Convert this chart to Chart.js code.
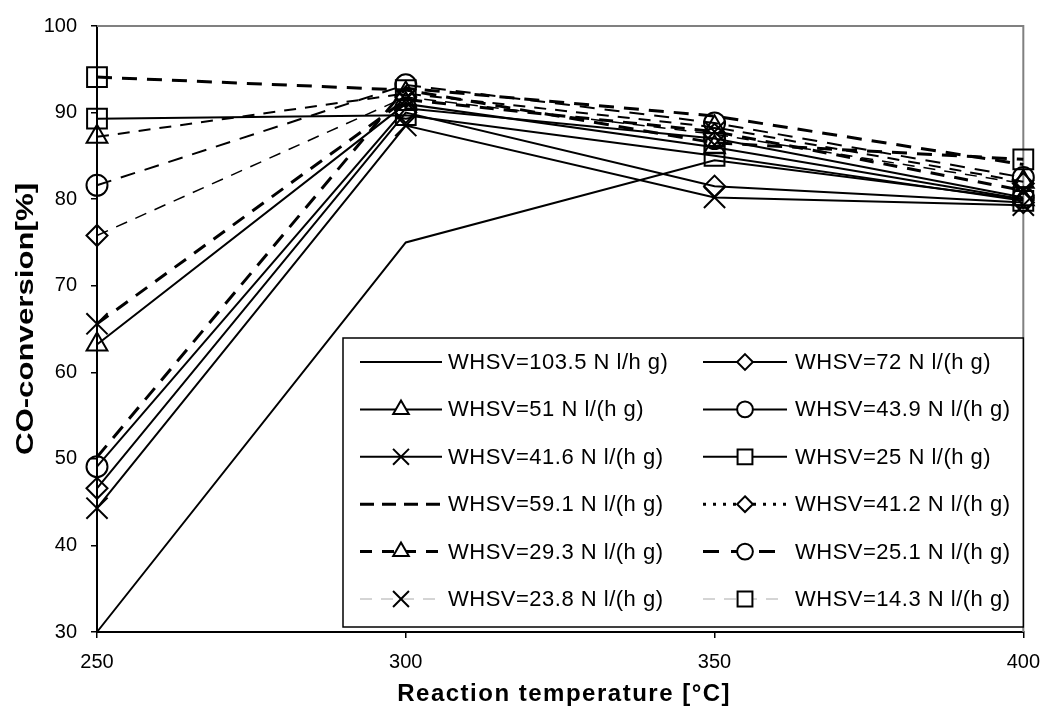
<!DOCTYPE html>
<html><head><meta charset="utf-8">
<script src="https://cdn.jsdelivr.net/npm/chart.js@4.4.1/dist/chart.umd.min.js"></script>
<style>html,body{margin:0;padding:0;background:#fff}#wrap{width:1052px;height:717px;position:relative}</style>
</head><body><div id="wrap"><canvas id="c"></canvas></div>
<script>
// ---- data ----
const temperatures = [250, 300, 350, 400];
const yTicks = [30, 40, 50, 60, 70, 80, 90, 100];
const xTitle = 'Reaction temperature [°C]';
const yTitle = 'CO-conversion[%]';
const seriesLabels = [
  "WHSV=103.5 N l/h g)", "WHSV=72 N l/(h g)",
  "WHSV=51 N l/(h g)", "WHSV=43.9 N l/(h g)",
  "WHSV=41.6 N l/(h g)", "WHSV=25 N l/(h g)",
  "WHSV=59.1 N l/(h g)", "WHSV=41.2 N l/(h g)",
  "WHSV=29.3 N l/(h g)", "WHSV=25.1 N l/(h g)",
  "WHSV=23.8 N l/(h g)", "WHSV=14.3 N l/(h g)"
];
const whsv103_5 = [30.0, 75.0, 84.5, 80.0];
const whsv72    = [46.6, 90.0, 81.5, 79.6];
const whsv51    = [63.2, 91.0, 86.0, 80.0];
const whsv43_9  = [49.1, 90.5, 87.0, 80.2];
const whsv41_6  = [44.3, 88.5, 80.2, 79.3];
const whsv25    = [89.3, 89.7, 85.0, 79.8];
const whsv59_1  = [50.2, 92.8, 89.6, 84.0];
const whsv41_2  = [75.8, 91.8, 87.5, 81.8];
const whsv29_3  = [87.2, 92.2, 88.3, 82.0];
const whsv25_1  = [81.6, 93.2, 88.8, 82.5];
const whsv23_8  = [65.6, 91.5, 87.8, 81.0];
const whsv14_3  = [94.1, 92.6, 86.5, 84.6];
const seriesValues = [whsv103_5, whsv72, whsv51, whsv43_9, whsv41_6, whsv25,
                      whsv59_1, whsv41_2, whsv29_3, whsv25_1, whsv23_8, whsv14_3];

// ---- styles ----
const FONT = '"Liberation Sans", Arial, sans-serif';
const plotStyles = [
  {marker: false,      r: 0,    color: '#000', width: 2,   dash: []},
  {marker: 'rectRot',  r: 10.5, color: '#000', width: 2,   dash: []},
  {marker: 'triangle', r: 12,   color: '#000', width: 2,   dash: []},
  {marker: 'circle',   r: 10.5, color: '#000', width: 2,   dash: []},
  {marker: 'crossRot', r: 15,   color: '#000', width: 2,   dash: []},
  {marker: 'rect',     r: 14,   color: '#000', width: 2,   dash: []},
  {marker: false,      r: 0,    color: '#000', width: 3,   dash: [15, 10]},
  {marker: 'rectRot',  r: 10.5, color: '#000', width: 1.5, dash: [12, 9]},
  {marker: 'triangle', r: 12,   color: '#000', width: 2,   dash: [12, 9]},
  {marker: 'circle',   r: 10.5, color: '#000', width: 2,   dash: [15, 10]},
  {marker: 'crossRot', r: 15,   color: '#000', width: 3,   dash: [14, 10]},
  {marker: 'rect',     r: 14,   color: '#000', width: 3,   dash: [15, 10]}
];
const legendStyles = [
  {color: '#000', width: 2, dash: []},
  {color: '#000', width: 2, dash: []},
  {color: '#000', width: 2, dash: []},
  {color: '#000', width: 2, dash: []},
  {color: '#000', width: 2, dash: []},
  {color: '#000', width: 2, dash: []},
  {color: '#000', width: 3, dash: [14, 8]},
  {color: '#000', width: 3, dash: [3, 7]},
  {color: '#000', width: 3, dash: [12, 10]},
  {color: '#000', width: 3, dash: [16, 12]},
  {color: '#aaa', width: 1, dash: [12, 9]},
  {color: '#aaa', width: 1, dash: [12, 9]}
];

const datasets = seriesValues.map((vals, i) => {
  const s = plotStyles[i];
  return {
    label: seriesLabels[i],
    data: vals.map((v, j) => ({x: temperatures[j], y: v})),
    borderColor: s.color,
    borderWidth: s.width,
    borderDash: s.dash,
    pointStyle: s.marker,
    pointRadius: s.r,
    pointBorderWidth: 2,
    pointBorderColor: '#000',
    pointBackgroundColor: 'rgba(0,0,0,0)',
    pointHoverRadius: s.r,
    tension: 0,
    fill: false,
    clip: false
  };
});

function drawMarker(ctx, style, r, x, y) {
  ctx.save();
  ctx.setLineDash([]);
  ctx.lineWidth = 2;
  ctx.strokeStyle = '#000';
  ctx.fillStyle = '#fff';
  ctx.beginPath();
  if (style === 'rect') {
    const s = r * Math.SQRT1_2;
    ctx.rect(x - s, y - s, 2 * s, 2 * s);
  } else if (style === 'rectRot') {
    ctx.moveTo(x, y - r); ctx.lineTo(x + r, y); ctx.lineTo(x, y + r); ctx.lineTo(x - r, y); ctx.closePath();
  } else if (style === 'triangle') {
    ctx.moveTo(x, y - r);
    ctx.lineTo(x + r * Math.cos(Math.PI / 6), y + r / 2);
    ctx.lineTo(x - r * Math.cos(Math.PI / 6), y + r / 2);
    ctx.closePath();
  } else if (style === 'circle') {
    ctx.arc(x, y, r, 0, Math.PI * 2);
  } else if (style === 'crossRot') {
    const o = r * Math.SQRT1_2;
    ctx.moveTo(x - o, y - o); ctx.lineTo(x + o, y + o);
    ctx.moveTo(x + o, y - o); ctx.lineTo(x - o, y + o);
    ctx.stroke(); ctx.restore(); return;
  }
  ctx.fill();
  ctx.stroke();
  ctx.restore();
}

const framePlugin = {
  id: 'frame',
  beforeDatasetsDraw(chart) {
    const {ctx, chartArea: ca} = chart;
    ctx.save();
    ctx.strokeStyle = '#808080';
    ctx.lineWidth = 2;
    ctx.beginPath();
    ctx.moveTo(ca.left, ca.top); ctx.lineTo(ca.right, ca.top); ctx.lineTo(ca.right, ca.bottom);
    ctx.stroke();
    ctx.restore();
  }
};

const titlePlugin = {
  id: 'axisTitles',
  afterDraw(chart) {
    const {ctx, chartArea: ca} = chart;
    ctx.save();
    ctx.fillStyle = '#000';
    ctx.textAlign = 'center';
    ctx.textBaseline = 'middle';
    ctx.font = 'bold 24px ' + FONT;
    try { ctx.letterSpacing = '1.5px'; } catch (e) {}
    ctx.fillText(xTitle, (ca.left + ca.right) / 2 + 4, 694);
    try { ctx.letterSpacing = '0px'; } catch (e) {}
    ctx.translate(26, (ca.top + ca.bottom) / 2 - 10);
    ctx.rotate(-Math.PI / 2);
    ctx.scale(1.3, 1);
    ctx.font = 'bold 24px ' + FONT;
    ctx.fillText(yTitle, 0, 0);
    ctx.restore();
  }
};

const legendPlugin = {
  id: 'boxLegend',
  afterDraw(chart) {
    const {ctx, chartArea: ca} = chart;
    const x0 = ca.left + 246, y0 = ca.top + 312, x1 = ca.right, y1 = ca.bottom - 5;
    ctx.save();
    ctx.fillStyle = '#fff';
    ctx.fillRect(x0, y0, x1 - x0, y1 - y0);
    ctx.strokeStyle = '#000';
    ctx.lineWidth = 1.5;
    ctx.strokeRect(x0, y0, x1 - x0, y1 - y0);
    const cols = [{s0: x0 + 17, s1: x0 + 99, t: x0 + 105}, {s0: x0 + 360, s1: x0 + 444, t: x0 + 452}];
    ctx.font = '22px ' + FONT;
    try { ctx.letterSpacing = '0.5px'; } catch (e) {}
    ctx.textBaseline = 'middle';
    ctx.textAlign = 'left';
    seriesLabels.forEach((lab, i) => {
      const c = cols[i % 2];
      const y = y0 + 24 + Math.floor(i / 2) * 47.4;
      const ls = legendStyles[i];
      ctx.save();
      ctx.strokeStyle = ls.color;
      ctx.lineWidth = ls.width;
      ctx.setLineDash(ls.dash);
      ctx.beginPath();
      ctx.moveTo(c.s0, y); ctx.lineTo(c.s1, y);
      ctx.stroke();
      ctx.restore();
      const ps = plotStyles[i];
      if (ps.marker) drawMarker(ctx, ps.marker, ps.r * 0.75, (c.s0 + c.s1) / 2, y);
      ctx.fillStyle = '#000';
      ctx.fillText(lab, c.t, y + 1);
    });
    ctx.restore();
  }
};

new Chart(document.getElementById('c'), {
  type: 'line',
  data: {datasets},
  plugins: [framePlugin, legendPlugin, titlePlugin],
  options: {
    responsive: true,
    maintainAspectRatio: false,
    animation: false,
    events: [],
    layout: {padding: {left: 5, top: 22, right: 22, bottom: 0}},
    plugins: {legend: {display: false}, tooltip: {enabled: false}},
    scales: {
      x: {
        type: 'linear', min: 250, max: 400,
        afterBuildTicks: (s) => { s.ticks = temperatures.map(v => ({value: v})); },
        afterFit: (s) => { s.height = 85; },
        grid: {display: true, drawOnChartArea: false, drawTicks: true, tickLength: 6, color: '#000', lineWidth: 1.5},
        border: {display: true, color: '#000', width: 2},
        ticks: {color: '#000', padding: 12, font: {family: FONT, size: 20}, maxRotation: 0},
        title: {display: false}
      },
      y: {
        type: 'linear', min: 30, max: 100,
        afterBuildTicks: (s) => { s.ticks = yTicks.map(v => ({value: v})); },
        afterFit: (s) => { s.width = 92; },
        grid: {display: true, drawOnChartArea: false, drawTicks: true, tickLength: 6, color: '#000', lineWidth: 1.5},
        border: {display: true, color: '#000', width: 2},
        ticks: {color: '#000', padding: 14, font: {family: FONT, size: 20}},
        title: {display: false}
      }
    }
  }
});
</script></body></html>
